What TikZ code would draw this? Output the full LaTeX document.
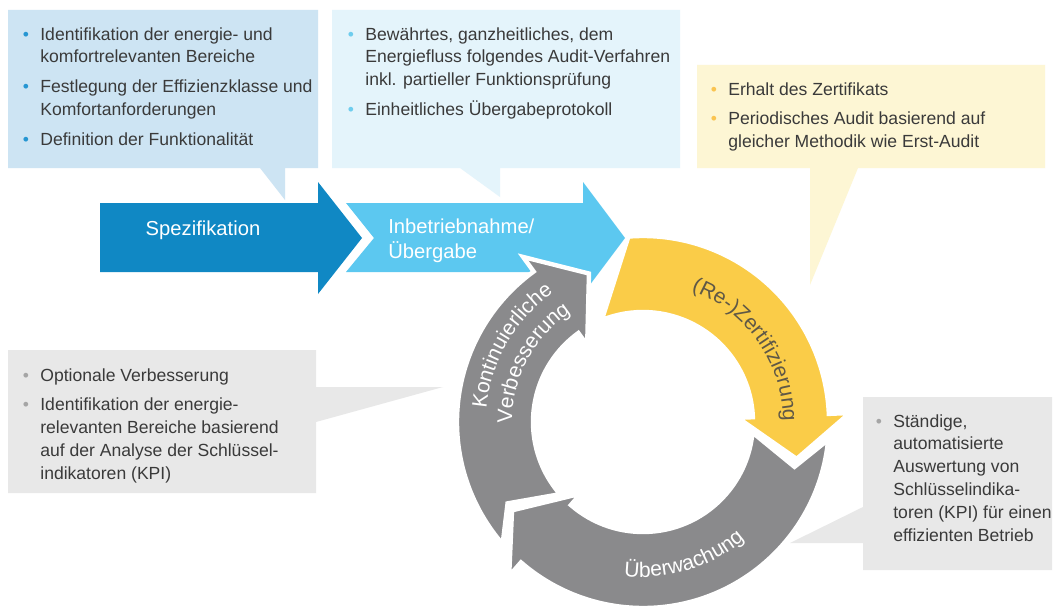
\documentclass[tikz,border=0pt]{standalone}
\usepackage{fontspec}
\setmainfont{Liberation Sans}
\usetikzlibrary{decorations.text}

\definecolor{spezblue}{RGB}{16,136,196}
\definecolor{inbcyan}{RGB}{92,200,240}
\definecolor{ringyel}{RGB}{250,204,72}
\definecolor{ringgray}{RGB}{138,138,140}
\definecolor{boxblue}{RGB}{205,228,243}
\definecolor{boxcyan}{RGB}{228,244,251}
\definecolor{boxyel}{RGB}{253,246,212}
\definecolor{boxgray}{RGB}{232,232,232}
\definecolor{bulblue}{RGB}{38,150,210}
\definecolor{bulcyan}{RGB}{110,205,238}
\definecolor{bulyel}{RGB}{250,196,80}
\definecolor{bulgray}{RGB}{165,165,165}
\definecolor{txtgray}{RGB}{58,58,58}
\definecolor{ringtxt}{RGB}{95,88,70}

\def\bul#1{\makebox[0pt][r]{\textcolor{#1}{\textbullet}\hspace{6.5pt}}}
\def\ringfont{\fontsize{12}{14}\selectfont}

\tikzset{
	bubbletxt/.style={anchor=north west, inner sep=0pt, align=left, text=txtgray, font=\fontsize{10}{13}\selectfont},
	arrowlbl/.style={inner sep=0pt, text=white, font=\fontsize{11.5}{14}\selectfont},
	ringarrow/.style={draw=white, line width=2.5pt, line join=miter},
}

\begin{document}
\begin{tikzpicture}[x=0.02cm, y=-0.02cm]
			%%%%% START %%%%%
			
			\fill[white] (0, 0) rectangle (1055, 608);
			\useasboundingbox (0, 0) rectangle (1055, 608);
			
			% speech bubbles
			\fill[boxblue] (8, 10) -- (318, 10) -- (318, 168) -- (285, 168) -- (285, 200) -- (260, 168) -- (8, 168) -- cycle;
			\fill[boxcyan] (332, 10) -- (680, 10) -- (680, 168) -- (500, 168) -- (500, 197) -- (460, 168) -- (332, 168) -- cycle;
			\fill[boxyel] (697, 65) -- (1045, 65) -- (1045, 168) -- (858, 168) -- (810, 285) -- (810, 168) -- (697, 168) -- cycle;
			\fill[boxgray] (8, 350) -- (316, 350) -- (316, 387) -- (443, 387) -- (316, 422) -- (316, 493) -- (8, 493) -- cycle;
			\fill[boxgray] (863, 397) -- (1052, 397) -- (1052, 570) -- (863, 570) -- (863, 543) -- (790, 543) -- (863, 507) -- cycle;
			
			\node[bubbletxt] (spectxt) at (40, 27) {\bul{bulblue}Identifikation der energie- und\\komfortrelevanten Bereiche\\[4pt]\bul{bulblue}Festlegung der Effizienzklasse und\\Komfortanforderungen\\[4pt]\bul{bulblue}Definition der Funktionalität};
			\node[bubbletxt] (handtxt) at (365, 27) {\bul{bulcyan}Bewährtes, ganzheitliches, dem\\Energiefluss folgendes Audit-Verfahren\\inkl. partieller Funktionsprüfung\\[4pt]\bul{bulcyan}Einheitliches Übergabeprotokoll};
			\node[bubbletxt] (certtxt) at (728, 82) {\bul{bulyel}Erhalt des Zertifikats\\[4pt]\bul{bulyel}Periodisches Audit basierend auf\\gleicher Methodik wie Erst-Audit};
			\node[bubbletxt] (imprtxt) at (40, 368) {\bul{bulgray}Optionale Verbesserung\\[4pt]\bul{bulgray}Identifikation der energie-\\relevanten Bereiche basierend\\auf der Analyse der Schlüssel-\\indikatoren (KPI)};
			\node[bubbletxt] (monitxt) at (893, 414) {\bul{bulgray}Ständige,\\automatisierte\\Auswertung von\\Schlüsselindika-\\toren (KPI) für einen\\effizienten Betrieb};
			
			% straight arrows
			\fill[spezblue] (100, 203) -- (318, 203) -- (318, 182) -- (362, 238) -- (318, 294) -- (318, 272) -- (100, 272) -- cycle;
			\fill[inbcyan] (346, 203) -- (583, 203) -- (583, 182) -- (625, 238) -- (583, 294) -- (583, 272) -- (346, 272) -- (374, 238) -- cycle;
			\node[arrowlbl] (spez) at (203, 230) {Spezifikation};
			\node[arrowlbl, anchor=west, align=left] (inbetr) at (388, 241) {Inbetriebnahme/\\Übergabe};
			
			% cycle
			\begin{scope}[shift={(643, 422)}]
				\path[ringarrow, fill=ringyel] (265.5:186) arc[start angle=265.5, end angle=357.5, radius=186] -- (357.5:207) -- (373.5:158) -- (357.5:95) -- (357.5:110) arc[start angle=357.5, end angle=248, radius=110] -- cycle;
				\path[ringarrow, fill=ringgray] (5.5:186) arc[start angle=5.5, end angle=131, radius=186] -- (131:204) -- (146:158) -- (131:95) -- (131:110) arc[start angle=131, end angle=5.5, radius=110] -- (16.5:158) -- cycle;
				\path[ringarrow, fill=ringgray] (139:186) arc[start angle=139, end angle=234, radius=186] -- (234:204) -- (250:158) -- (234:95) -- (234:110) arc[start angle=234, end angle=139, radius=110] -- (149:158) -- cycle;
				
				\path[decorate, decoration={text along path, text align=center, text={|\ringfont\color{ringtxt}|(Re-)Zertifizierung}}] (285:140) arc[start angle=285, end angle=365, radius=140];
				\path[decorate, decoration={text along path, text align=center, text={|\ringfont\color{white}|Überwachung}}] (113:155) arc[start angle=113, end angle=33, radius=155];
				\path[decorate, decoration={text along path, text align=center, text={|\ringfont\color{white}|Kontinuierliche}}] (170:157) arc[start angle=170, end angle=250, radius=157];
				\path[decorate, decoration={text along path, text align=center, text={|\ringfont\color{white}|Verbesserung}}] (168:131) arc[start angle=168, end angle=248, radius=131];
			\end{scope}
			
			%%%%% END %%%%%
\end{tikzpicture}
\end{document}
